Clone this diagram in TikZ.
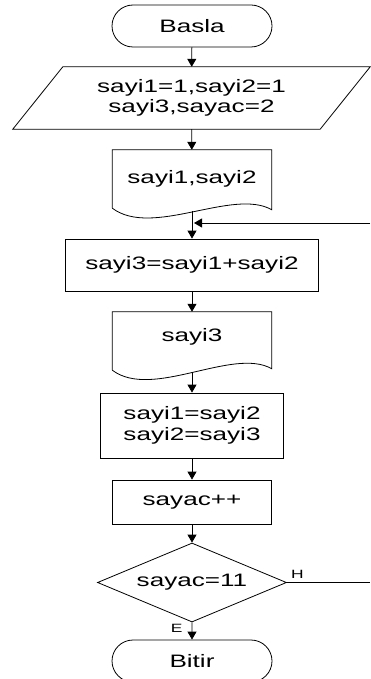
\documentclass[tikz,border=0pt]{standalone}
\usepackage{fontspec}
\setmainfont{Liberation Sans}[FakeStretch=1.45]
\usetikzlibrary{arrows.meta,shapes.misc,shapes.geometric,calc}
\begin{document}
\begin{tikzpicture}[x=1pt,y=-1pt,
  every node/.style={font=\fontsize{18}{20.5}\selectfont, inner sep=0pt, align=center},
  line/.style={line width=0.8pt, draw=black},
  arr/.style={line width=0.8pt, -{Triangle[length=8pt,width=9pt]}},
  term/.style={rounded rectangle, draw, line width=0.8pt, minimum width=160pt, minimum height=42pt},
  procbox/.style={rectangle, draw, line width=0.8pt},
  docbox/.style={rectangle, minimum width=159pt, minimum height=58pt},
  iobox/.style={rectangle, minimum width=357pt, minimum height=62pt},
  decbox/.style={diamond, draw, line width=0.8pt, aspect=2.4, minimum width=189pt, minimum height=79pt},
  small/.style={font=\fontsize{12}{14}\selectfont}
]
\useasboundingbox (0,0) rectangle (370,679);

% shapes
\node[term] (basla) at (192,26) {Basla};

\node[iobox] (inp) at (191.5,98) {sayi1=1,sayi2=1\\sayi3,sayac=2};
\draw[line] (inp.south west) -- ($(inp.north west)+(50,0)$) -- (inp.north east)
  -- ($(inp.south east)+(-50,0)$) -- cycle;

\node[docbox] (d1) at (192,179) {sayi1,sayi2};
\draw[line] (d1.south west) -- (d1.north west) -- (d1.north east)
  -- ($(d1.south east)+(0,1.5)$) .. controls +(-39,-22) and +(40,30) .. (d1.south west);
\coordinate (d1out) at ($(d1.south)+(0,3)$);

\node[procbox, minimum width=253pt, minimum height=52pt] (p1) at (192,265) {sayi3=sayi1+sayi2};

\node[docbox, text height=13pt, text depth=11.8pt] (d2) at (192,341) {sayi3};
\draw[line] (d2.south west) -- (d2.north west) -- (d2.north east)
  -- ($(d2.south east)+(0,-1.5)$) .. controls +(-39,-22) and +(40,30) .. (d2.south west);
\coordinate (d2out) at ($(d2.south)+(0,2)$);

\node[procbox, minimum width=183pt, minimum height=65pt] (p2) at (192,425.5) {sayi1=sayi2\\sayi2=sayi3};

\node[procbox, minimum width=159pt, minimum height=44pt] (p3) at (192,502) {sayac++};

\node[decbox] (dec) at (192,582.5) {sayac=11};

\node[term] (bitir) at (192,661) {Bitir};

\node[small] (hlab) at (297.5,574) {H};
\node[small] (elab) at (176.7,628.7) {E};

% connectors
\draw[arr] (basla) -- (inp);
\draw[arr] (inp) -- (d1);
\draw[arr] (d1out) -- (p1);
\draw[arr] (p1) -- (d2);
\draw[arr] (d2out) -- (p2);
\draw[arr] (p2) -- (p3);
\draw[arr] (p3) -- (dec);
\draw[arr] (dec) -- (bitir);

\coordinate (hend) at (370,582.5);
\draw[line] (dec.east) -- (hend);

\coordinate (loopin) at (370,223);
\coordinate (loopjoin) at ($(loopin -| d1.south)+(2,0)$);
\draw[arr] (loopin) -- (loopjoin);
\end{tikzpicture}
\end{document}
